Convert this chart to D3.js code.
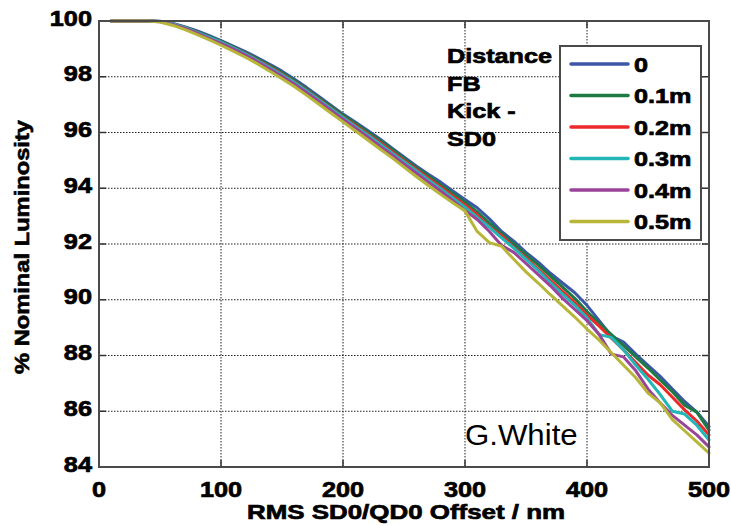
<!DOCTYPE html>
<html><head><meta charset="utf-8">
<script src="https://cdn.jsdelivr.net/npm/d3@7"></script>
<style>body{margin:0;background:#fff}svg{display:block}</style>
</head><body>
<svg id="c" width="731" height="526"></svg>
<script>
const xValues = d3.range(10, 501, 10);
const seriesNames = ["0","0.1m","0.2m","0.3m","0.4m","0.5m"];
const seriesColors = ["#3b57a6","#1c7a42","#ec2a2c","#22b7b6","#9a4499","#b7b638"];
const s0 = [100,100,100,100,99.99,99.92,99.8,99.65,99.48,99.3,99.1,98.9,98.68,98.45,98.2,97.92,97.62,97.3,96.98,96.66,96.38,96.08,95.78,95.45,95.12,94.8,94.5,94.22,93.9,93.6,93.3,92.9,92.45,92.1,91.7,91.35,90.95,90.6,90.25,89.8,89.25,88.7,88.48,88.05,87.65,87.25,86.8,86.35,85.97,85.45];
const s1 = [100,100,100,100,99.98,99.9,99.78,99.62,99.45,99.27,99.07,98.86,98.64,98.4,98.15,97.87,97.56,97.25,96.93,96.62,96.33,96.03,95.72,95.4,95.07,94.75,94.44,94.12,93.82,93.5,93.15,92.75,92.38,92.0,91.62,91.25,90.85,90.45,90.05,89.58,89.15,88.75,88.35,87.95,87.55,87.12,86.7,86.22,85.97,85.32];
const s2 = [100,100,100,100,99.98,99.9,99.77,99.6,99.42,99.24,99.04,98.83,98.6,98.36,98.1,97.82,97.52,97.2,96.88,96.56,96.26,95.96,95.65,95.32,95.0,94.68,94.36,94.05,93.72,93.4,93.05,92.62,92.3,91.88,91.5,91.1,90.7,90.3,89.9,89.45,89.05,88.62,88.2,87.75,87.3,86.95,86.5,86.05,85.65,85.15];
const s3 = [100,100,100,100,99.98,99.9,99.77,99.6,99.42,99.24,99.04,98.82,98.58,98.33,98.07,97.8,97.5,97.18,96.86,96.54,96.22,95.92,95.6,95.27,94.95,94.63,94.3,93.98,93.65,93.32,92.95,92.6,92.22,91.85,91.45,91.05,90.62,90.2,89.8,89.35,88.75,88.65,88.2,87.65,87.15,86.6,86.0,85.9,85.5,84.97];
const s4 = [100,100,100,100,99.97,99.88,99.74,99.57,99.38,99.2,99.0,98.78,98.54,98.28,98.02,97.74,97.44,97.12,96.8,96.48,96.16,95.85,95.52,95.2,94.87,94.55,94.22,93.9,93.56,93.2,92.88,92.45,91.95,91.7,91.3,90.9,90.5,90.05,89.65,89.25,88.75,88.05,87.95,87.45,86.8,86.3,85.85,85.5,85.15,84.72];
const s5 = [100,100,100,100,99.96,99.85,99.7,99.52,99.33,99.13,98.92,98.7,98.46,98.2,97.93,97.65,97.34,97.02,96.7,96.38,96.06,95.74,95.42,95.1,94.76,94.42,94.1,93.78,93.48,93.18,92.45,92.05,91.92,91.45,91.0,90.6,90.18,89.78,89.38,88.95,88.55,88.1,87.65,87.2,86.65,86.3,85.7,85.3,84.9,84.5];
const seriesValues = [s0,s1,s2,s3,s4,s5];
const xTicks = [0,100,200,300,400,500];
const yTicks = [84,86,88,90,92,94,96,98,100];
const titleLines = ["Distance","FB","Kick -","SD0"];

const svg = d3.select("#c");
const L = 99, R = 709, T = 21, B = 467;
const x = d3.scaleLinear().domain([0,500]).range([L,R]);
const y = d3.scaleLinear().domain([84,100]).range([B,T]);
const FONT = "'Liberation Sans', Arial, Helvetica, sans-serif";

function stext(g, px, py, str, size, sx, anchor, weight) {
  const t = g.append("text")
    .attr("transform", `translate(${px},${py}) scale(${sx},1)`)
    .attr("text-anchor", anchor)
    .attr("font-family", FONT)
    .attr("font-size", size)
    .attr("font-weight", weight)
    .attr("fill", "#000")
    .text(str);
  if (weight === "bold") t.attr("stroke", "#000").attr("stroke-width", 0.7);
  return t;
}

// grid
const grid = svg.append("g").attr("stroke", "#222").attr("stroke-width", 1).attr("stroke-dasharray", "1.5,1.5");
xTicks.slice(1, -1).forEach(v => grid.append("line").attr("x1", x(v)).attr("x2", x(v)).attr("y1", T).attr("y2", B));
yTicks.slice(1, -1).forEach(v => grid.append("line").attr("x1", L).attr("x2", R).attr("y1", y(v)).attr("y2", y(v)));

// inward ticks
const tk = svg.append("g").attr("stroke", "#333").attr("stroke-width", 1.5);
xTicks.forEach(v => {
  tk.append("line").attr("x1", x(v)).attr("x2", x(v)).attr("y1", B).attr("y2", B - 7);
  tk.append("line").attr("x1", x(v)).attr("x2", x(v)).attr("y1", T).attr("y2", T + 7);
});
yTicks.forEach(v => {
  tk.append("line").attr("x1", L).attr("x2", L + 7).attr("y1", y(v)).attr("y2", y(v));
  tk.append("line").attr("x1", R).attr("x2", R - 7).attr("y1", y(v)).attr("y2", y(v));
});

// lines
const line = d3.line().x((d, i) => x(xValues[i])).y(d => y(d));
const lg = svg.append("g").attr("fill", "none").attr("stroke-width", 3).attr("stroke-linejoin", "round").attr("stroke-linecap", "round");
seriesValues.forEach((vals, k) => {
  lg.append("path").attr("d", line(vals)).attr("stroke", seriesColors[k]);
});

// frame
svg.append("rect").attr("x", L).attr("y", T).attr("width", R - L).attr("height", B - T)
  .attr("fill", "none").attr("stroke", "#4a4a4a").attr("stroke-width", 2);

// tick labels
const tl = svg.append("g");
xTicks.forEach(v => stext(tl, x(v), 497, String(v), 22, 1.15, "middle", "bold"));
yTicks.forEach(v => stext(tl, 92, y(v) + 4.5, String(v), 22, 1.15, "end", "bold"));

// axis titles
svg.append("text").attr("x", 406).attr("y", 519).attr("text-anchor", "middle")
  .attr("font-family", FONT).attr("font-size", 21).attr("font-weight", "bold")
  .attr("stroke", "#000").attr("stroke-width", 0.7)
  .attr("textLength", 318).attr("lengthAdjust", "spacingAndGlyphs")
  .text("RMS SD0/QD0 Offset / nm");
svg.append("text").attr("transform", "translate(29,247) rotate(-90)").attr("text-anchor", "middle")
  .attr("font-family", FONT).attr("font-size", 20).attr("font-weight", "bold")
  .attr("stroke", "#000").attr("stroke-width", 0.6)
  .attr("textLength", 254).attr("lengthAdjust", "spacingAndGlyphs")
  .text("% Nominal Luminosity");

// annotation title
titleLines.forEach((t, i) => stext(svg, 447, 63 + i * 27.5, t, 21, 1.2, "start", "bold"));

// legend
const leg = svg.append("g");
leg.append("rect").attr("x", 560).attr("y", 46).attr("width", 141).attr("height", 194)
  .attr("fill", "#fff").attr("stroke", "#4a4a4a").attr("stroke-width", 2);
seriesNames.forEach((n, k) => {
  const yy = 64 + k * 31.5;
  leg.append("line").attr("x1", 571).attr("x2", 628).attr("y1", yy).attr("y2", yy)
    .attr("stroke", seriesColors[k]).attr("stroke-width", 3.5).attr("stroke-linecap", "round");
  stext(leg, 634, yy + 7.5, n, 21, 1.2, "start", "bold");
});

// credit
stext(svg, 465, 445, "G.White", 30, 1.04, "start", "normal");
</script>
</body></html>
